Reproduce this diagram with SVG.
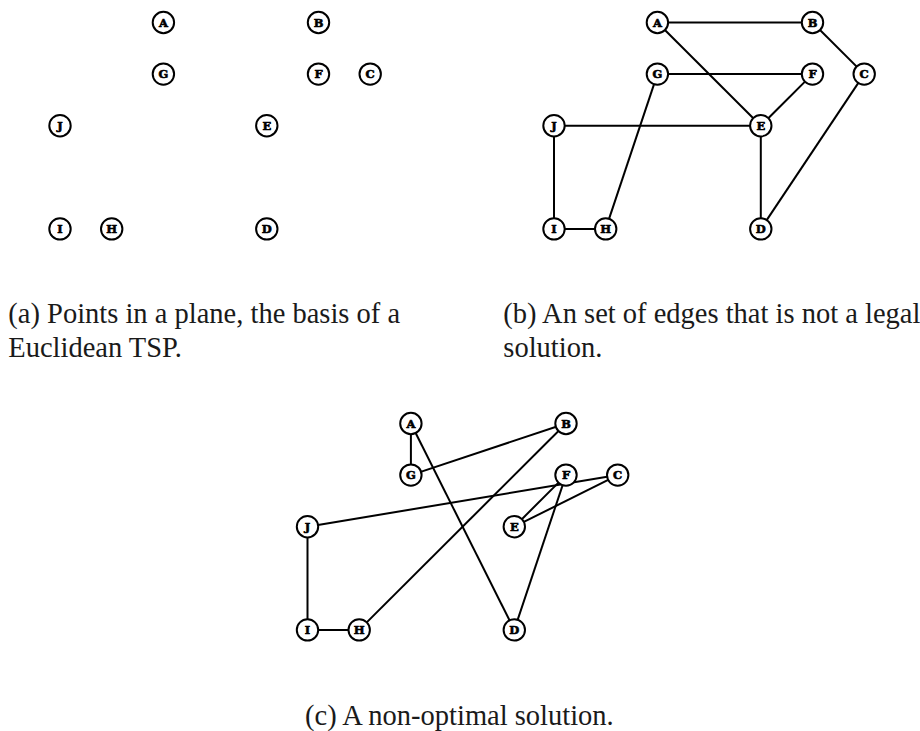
<svg xmlns="http://www.w3.org/2000/svg" width="920" height="731" viewBox="0 0 920 731">
<style>
  .node circle { fill: #ffffff; stroke: #000000; stroke-width: 2; }
  .node text { font-family: "DejaVu Serif", serif; font-weight: bold; font-size: 11.5px; text-anchor: middle; fill: #000000; stroke: #000000; stroke-width: 0.6; }
  .edges line { stroke: #000000; stroke-width: 2; }
  .caption { font-family: "Liberation Serif", "Times New Roman", serif; font-size: 28.5px; fill: #1a1a1a; }
</style>
<rect width="920" height="731" fill="#ffffff"/>

<!-- Panel (a) -->
<g id="panel-a">
  <g id="a-A" class="node"><circle cx="163.4" cy="22.5" r="10.7"/><text x="163.4" y="26.6">A</text></g>
  <g id="a-B" class="node"><circle cx="318.5" cy="22.5" r="10.7"/><text x="318.5" y="26.6">B</text></g>
  <g id="a-G" class="node"><circle cx="163.4" cy="74.1" r="10.7"/><text x="163.4" y="78.2">G</text></g>
  <g id="a-F" class="node"><circle cx="318.5" cy="74.1" r="10.7"/><text x="318.5" y="78.2">F</text></g>
  <g id="a-C" class="node"><circle cx="370.2" cy="74.1" r="10.7"/><text x="370.2" y="78.2">C</text></g>
  <g id="a-J" class="node"><circle cx="60" cy="125.7" r="10.7"/><text x="60" y="129.8">J</text></g>
  <g id="a-E" class="node"><circle cx="266.8" cy="125.7" r="10.7"/><text x="266.8" y="129.8">E</text></g>
  <g id="a-I" class="node"><circle cx="60" cy="228.9" r="10.7"/><text x="60" y="233">I</text></g>
  <g id="a-H" class="node"><circle cx="111.7" cy="228.9" r="10.7"/><text x="111.7" y="233">H</text></g>
  <g id="a-D" class="node"><circle cx="266.8" cy="228.9" r="10.7"/><text x="266.8" y="233">D</text></g>
</g>

<!-- Panel (b) -->
<g id="panel-b" transform="translate(494,0)">
  <g id="b-edges" class="edges">
    <line x1="163.4" y1="22.5" x2="318.5" y2="22.5"/>
    <line x1="318.5" y1="22.5" x2="370.2" y2="74.1"/>
    <line x1="370.2" y1="74.1" x2="266.8" y2="228.9"/>
    <line x1="266.8" y1="228.9" x2="266.8" y2="125.7"/>
    <line x1="266.8" y1="125.7" x2="163.4" y2="22.5"/>
    <line x1="266.8" y1="125.7" x2="318.5" y2="74.1"/>
    <line x1="318.5" y1="74.1" x2="163.4" y2="74.1"/>
    <line x1="163.4" y1="74.1" x2="111.7" y2="228.9"/>
    <line x1="111.7" y1="228.9" x2="60" y2="228.9"/>
    <line x1="60" y1="228.9" x2="60" y2="125.7"/>
    <line x1="60" y1="125.7" x2="266.8" y2="125.7"/>
  </g>
  <g id="b-A" class="node"><circle cx="163.4" cy="22.5" r="10.7"/><text x="163.4" y="26.6">A</text></g>
  <g id="b-B" class="node"><circle cx="318.5" cy="22.5" r="10.7"/><text x="318.5" y="26.6">B</text></g>
  <g id="b-G" class="node"><circle cx="163.4" cy="74.1" r="10.7"/><text x="163.4" y="78.2">G</text></g>
  <g id="b-F" class="node"><circle cx="318.5" cy="74.1" r="10.7"/><text x="318.5" y="78.2">F</text></g>
  <g id="b-C" class="node"><circle cx="370.2" cy="74.1" r="10.7"/><text x="370.2" y="78.2">C</text></g>
  <g id="b-J" class="node"><circle cx="60" cy="125.7" r="10.7"/><text x="60" y="129.8">J</text></g>
  <g id="b-E" class="node"><circle cx="266.8" cy="125.7" r="10.7"/><text x="266.8" y="129.8">E</text></g>
  <g id="b-I" class="node"><circle cx="60" cy="228.9" r="10.7"/><text x="60" y="233">I</text></g>
  <g id="b-H" class="node"><circle cx="111.7" cy="228.9" r="10.7"/><text x="111.7" y="233">H</text></g>
  <g id="b-D" class="node"><circle cx="266.8" cy="228.9" r="10.7"/><text x="266.8" y="233">D</text></g>
</g>

<!-- Panel (c) -->
<g id="panel-c" transform="translate(247.5,401)">
  <g id="c-edges" class="edges">
    <line x1="163.4" y1="22.5" x2="163.4" y2="74.1"/>
    <line x1="163.4" y1="74.1" x2="318.5" y2="22.5"/>
    <line x1="318.5" y1="22.5" x2="111.7" y2="228.9"/>
    <line x1="111.7" y1="228.9" x2="60" y2="228.9"/>
    <line x1="60" y1="228.9" x2="60" y2="125.7"/>
    <line x1="60" y1="125.7" x2="370.2" y2="74.1"/>
    <line x1="370.2" y1="74.1" x2="266.8" y2="125.7"/>
    <line x1="266.8" y1="125.7" x2="318.5" y2="74.1"/>
    <line x1="318.5" y1="74.1" x2="266.8" y2="228.9"/>
    <line x1="266.8" y1="228.9" x2="163.4" y2="22.5"/>
  </g>
  <g id="c-A" class="node"><circle cx="163.4" cy="22.5" r="10.7"/><text x="163.4" y="26.6">A</text></g>
  <g id="c-B" class="node"><circle cx="318.5" cy="22.5" r="10.7"/><text x="318.5" y="26.6">B</text></g>
  <g id="c-G" class="node"><circle cx="163.4" cy="74.1" r="10.7"/><text x="163.4" y="78.2">G</text></g>
  <g id="c-F" class="node"><circle cx="318.5" cy="74.1" r="10.7"/><text x="318.5" y="78.2">F</text></g>
  <g id="c-C" class="node"><circle cx="370.2" cy="74.1" r="10.7"/><text x="370.2" y="78.2">C</text></g>
  <g id="c-J" class="node"><circle cx="60" cy="125.7" r="10.7"/><text x="60" y="129.8">J</text></g>
  <g id="c-E" class="node"><circle cx="266.8" cy="125.7" r="10.7"/><text x="266.8" y="129.8">E</text></g>
  <g id="c-I" class="node"><circle cx="60" cy="228.9" r="10.7"/><text x="60" y="233">I</text></g>
  <g id="c-H" class="node"><circle cx="111.7" cy="228.9" r="10.7"/><text x="111.7" y="233">H</text></g>
  <g id="c-D" class="node"><circle cx="266.8" cy="228.9" r="10.7"/><text x="266.8" y="233">D</text></g>
</g>

<!-- Captions -->
<g id="captions">
  <text class="caption" x="8.3" y="323.3">(a) Points in a plane, the basis of a</text>
  <text class="caption" x="8.3" y="357.3">Euclidean TSP.</text>
  <text class="caption" x="503.3" y="323.3">(b) An set of edges that is not a legal</text>
  <text class="caption" x="503.3" y="357.3">solution.</text>
  <text class="caption" x="305" y="725">(c) A non-optimal solution.</text>
</g>
</svg>
